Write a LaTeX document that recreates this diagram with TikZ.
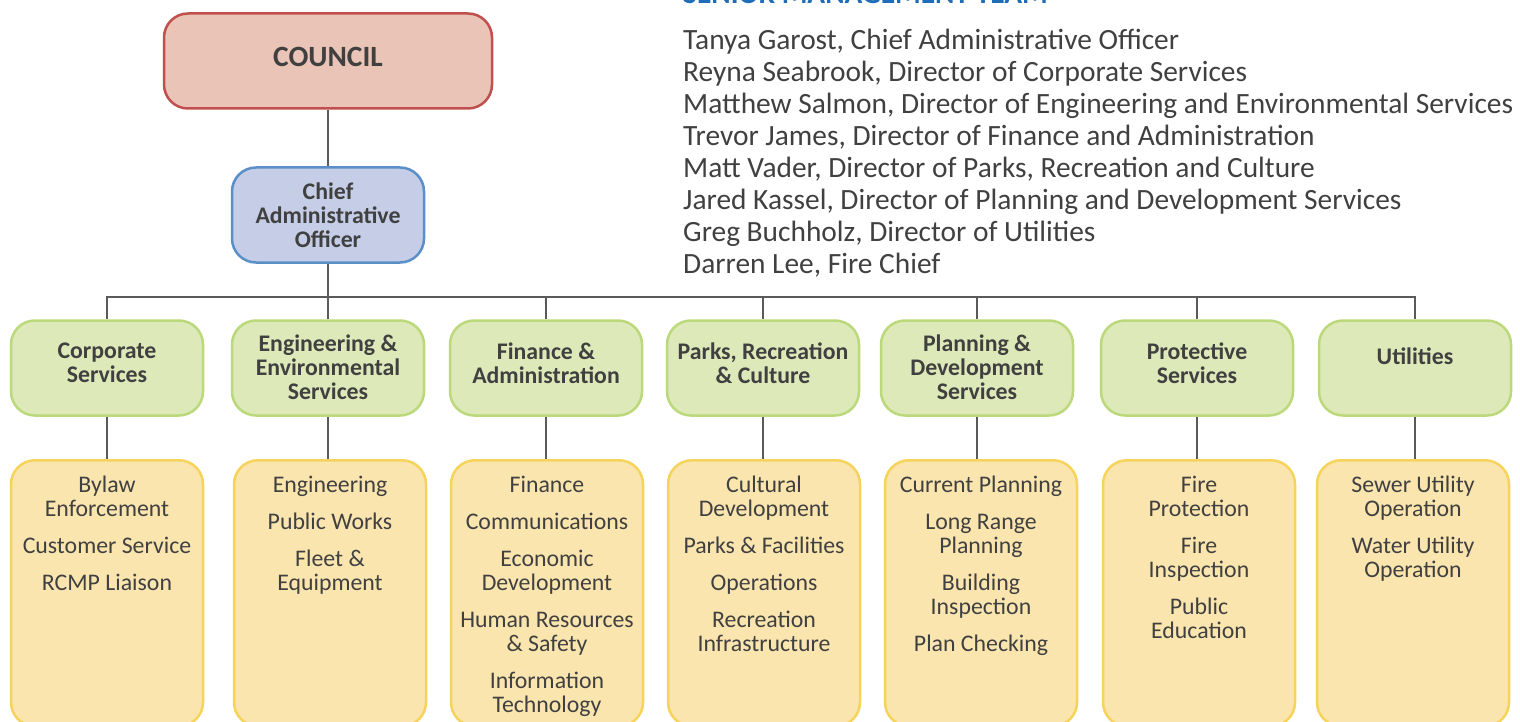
\documentclass[tikz,border=0pt]{standalone}
\usepackage{fontspec}
\setmainfont{Carlito}
\usetikzlibrary{positioning}
\definecolor{councilfill}{HTML}{E9C4B7}
\definecolor{councilline}{HTML}{C0504D}
\definecolor{caofill}{HTML}{C5CEE6}
\definecolor{caoline}{HTML}{5A8FC8}
\definecolor{deptfill}{HTML}{DEE9B9}
\definecolor{deptline}{HTML}{BBD97A}
\definecolor{unitfill}{HTML}{FAE5AF}
\definecolor{unitline}{HTML}{F6D35A}
\definecolor{inkgray}{HTML}{404040}
\definecolor{teamblue}{HTML}{1F6DB8}
\definecolor{wiregray}{HTML}{5A5A5A}

\begin{document}
\begin{tikzpicture}[x=1pt, y=-1pt,
    box/.style={rounded corners=24pt, line width=2.5pt, minimum width=192pt, inner sep=0pt,
      align=center, text=inkgray, font=\fontsize{23.8}{24}\selectfont\bfseries},
    council/.style={box, fill=councilfill, draw=councilline, minimum width=328pt,
      minimum height=95pt, text depth=8pt, font=\fontsize{29.4}{30}\selectfont\bfseries},
    cao/.style={box, fill=caofill, draw=caoline, minimum height=95pt},
    dept/.style={box, fill=deptfill, draw=deptline, minimum height=95pt, text depth=2pt},
    twoline/.style={text depth=10pt},
    oneline/.style={text depth=24pt},
    unit/.style={box, fill=unitfill, draw=unitline, minimum height=266pt, anchor=north},
    unittext/.style={align=center, inner sep=0pt, text=inkgray,
      font=\fontsize{23.8}{24}\selectfont},
    wire/.style={draw=wiregray, line width=1.5pt}]
    \useasboundingbox (0,0) rectangle (1520,722);

    % top of the chart
    \node[council] (council) at (328,61) {COUNCIL};
    \node[cao] (cao) at (328,215) {Chief\\Administrative\\Officer};
    \coordinate (bus) at (328,297);

    % departments
    \node[dept, twoline] (d1) at (107,368) {Corporate\\Services};
    \node[dept] (d2) at (328,368) {Engineering \&\\Environmental\\Services};
    \node[dept, twoline] (d3) at (546,368) {Finance \&\\Administration};
    \node[dept, twoline] (d4) at (763,368) {Parks, Recreation\\\& Culture};
    \node[dept] (d5) at (977,368) {Planning \&\\Development\\Services};
    \node[dept, twoline] (d6) at (1197,368) {Protective\\Services};
    \node[dept, oneline] (d7) at (1415,368) {Utilities};

    % units under each department
    \node[unit] (u1) at (107,459) {};
    \node[unit] (u2) at (330,459) {};
    \node[unit] (u3) at (547,459) {};
    \node[unit] (u4) at (764,459) {};
    \node[unit] (u5) at (981,459) {};
    \node[unit] (u6) at (1199,459) {};
    \node[unit] (u7) at (1413,459) {};

    \node[unittext, below=17pt of u1.north] (t1) {Bylaw\\Enforcement\\[13pt]Customer Service\\[13pt]RCMP Liaison};
    \node[unittext, below=17pt of u2.north] (t2) {Engineering\\[13pt]Public Works\\[13pt]Fleet \&\\Equipment};
    \node[unittext, below=17pt of u3.north] (t3) {Finance\\[13pt]Communications\\[13pt]Economic\\Development\\[13pt]Human Resources\\\& Safety\\[13pt]Information\\Technology};
    \node[unittext, below=17pt of u4.north] (t4) {Cultural\\Development\\[13pt]Parks \& Facilities\\[13pt]Operations\\[13pt]Recreation\\Infrastructure};
    \node[unittext, below=17pt of u5.north] (t5) {Current Planning\\[13pt]Long Range\\Planning\\[13pt]Building\\Inspection\\[13pt]Plan Checking};
    \node[unittext, below=17pt of u6.north] (t6) {Fire\\Protection\\[13pt]Fire\\Inspection\\[13pt]Public\\Education};
    \node[unittext, below=17pt of u7.north] (t7) {Sewer Utility\\Operation\\[13pt]Water Utility\\Operation};

    % connectors
    \draw[wire] (council) -- (cao);
    \draw[wire] (cao) -- (bus);
    \draw[wire] (d1) -- (d1.north |- bus) -| (d7);
    \foreach \i in {2,...,6}
      \draw[wire] (d\i) -- (d\i.north |- bus);
    \foreach \i in {1,...,7}
      \draw[wire] (d\i) -- (d\i.south |- u\i.north);

    % senior management list
    \node[anchor=base west, inner sep=0pt, text=teamblue, font=\fontsize{29.4}{32}\selectfont\bfseries]
      (teamhead) at (683,4) {SENIOR MANAGEMENT TEAM};
    \node[anchor=north west, inner sep=0pt, align=left, text=inkgray, font=\fontsize{29.4}{32}\selectfont]
      (team) at (683,29) {Tanya Garost, Chief Administrative Officer\\
      Reyna Seabrook, Director of Corporate Services\\
      Matthew Salmon, Director of Engineering and Environmental Services\\
      Trevor James, Director of Finance and Administration\\
      Matt Vader, Director of Parks, Recreation and Culture\\
      Jared Kassel, Director of Planning and Development Services\\
      Greg Buchholz, Director of Utilities\\
      Darren Lee, Fire Chief};
\end{tikzpicture}
\end{document}
